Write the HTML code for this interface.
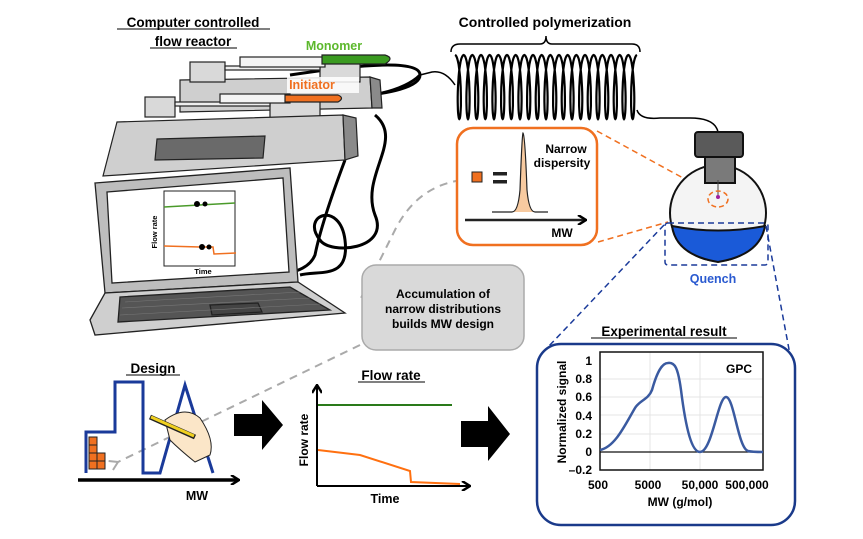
<!DOCTYPE html>
<html><head><meta charset="utf-8"><style>
html,body{margin:0;padding:0;background:#fff}
svg{display:block}
text{font-family:"Liberation Sans",Arial,sans-serif;font-weight:bold}
</style></head><body>
<svg id="s" width="863" height="539" viewBox="0 0 863 539" xmlns="http://www.w3.org/2000/svg">
<defs>
<marker id="ah" markerWidth="10" markerHeight="10" refX="8" refY="5" orient="auto" markerUnits="userSpaceOnUse"><path d="M1,0 L9,5 L1,10" fill="none" stroke="#000" stroke-width="2.5"/></marker>
<marker id="gah" markerWidth="12" markerHeight="12" refX="2" refY="6" orient="auto" markerUnits="userSpaceOnUse"><path d="M10,1 L2,6 L10,11" fill="none" stroke="#aaa" stroke-width="2"/></marker>
</defs>
<!-- titles -->
<text x="193" y="27" font-size="13.5" text-anchor="middle">Computer controlled</text>
<text x="193" y="46" font-size="13.5" text-anchor="middle">flow reactor</text>
<line x1="117" y1="29" x2="270" y2="29" stroke="#000"/>
<line x1="150" y1="48" x2="237" y2="48" stroke="#000"/>
<text x="545" y="27" font-size="14" text-anchor="middle">Controlled polymerization</text>
<path d="M451,52 Q451,44 460,44 L540,44 Q546,44 546,36 Q546,44 552,44 L632,44 Q640,44 640,52" fill="none" stroke="#000" stroke-width="1.5"/>
<g id="coil"></g>
<path d="M455,85 Q445,70 432,72 L420,75" fill="none" stroke="#000" stroke-width="1.5"/>
<path d="M637,110 Q640,120 660,118 L690,118 Q715,118 718,132" fill="none" stroke="#000" stroke-width="1.5"/>

<!-- cables -->
<g fill="none" stroke="#000" stroke-width="3">
<path d="M290,75 Q420,55 420,75 Q420,92 340,98"/>
<path d="M335,100 Q400,95 420,75"/>
<path d="M375,115 C405,140 360,175 375,215 C390,250 330,255 320,240 C300,215 340,200 345,240 C350,280 320,270 300,275"/>
<path d="M345,160 C330,200 320,230 315,255 C305,280 260,270 285,285"/>
</g>

<!-- upper pump -->
<g stroke="#222" stroke-width="1.2">
<polygon points="180,80 370,77 372,108 180,112" fill="#cfcfcf"/>
<polygon points="370,77 380,80 382,108 372,108" fill="#8a8a8a"/>
<rect x="190" y="62" width="35" height="20" fill="#d9d9d9"/>
<rect x="320" y="62" width="40" height="20" fill="#d9d9d9"/>
<rect x="225" y="66" width="95" height="4" fill="#eee"/>
<rect x="240" y="57" width="85" height="10" fill="#f4f4f4"/>
<path d="M322,55 L385,55 Q395,58 385,64 L322,64 Z" fill="#3a9a20"/>
<rect x="145" y="97" width="30" height="20" fill="#d9d9d9"/>
<rect x="270" y="97" width="50" height="22" fill="#d9d9d9"/>
<rect x="175" y="102" width="95" height="4" fill="#eee"/>
<rect x="220" y="94" width="70" height="9" fill="#f4f4f4"/>
<path d="M285,95 L338,95 Q345,98 338,102 L285,102 Z" fill="#f07020"/>
<polygon points="117,122 343,115 345,160 103,176" fill="#cfcfcf"/>
<polygon points="343,115 356,118 358,156 345,160" fill="#8a8a8a"/>
<polygon points="157,139 265,136 263,158 155,160" fill="#6a6a6a"/>
</g>
<rect x="287" y="77" width="72" height="16" fill="#fff" opacity="0.85"/>
<text x="334" y="50" font-size="12.5" fill="#5cb82c" text-anchor="middle">Monomer</text>
<text x="312" y="89" font-size="12.5" fill="#f07020" text-anchor="middle">Initiator</text>

<!-- laptop -->
<g stroke="#222" stroke-width="1.3">
<polygon points="95,183 290,168 298,282 105,293" fill="#bdbdbd"/>
<polygon points="107,192 283,178 289,272 112,283" fill="#fff"/>
<polygon points="105,293 298,282 345,313 95,335 90,320" fill="#cfcfcf"/>
<polygon points="120,297 290,287 330,310 118,322" fill="#555"/>
<polygon points="210,305 258,303 262,312 212,315" fill="#444"/>
</g>
<g stroke="#777" stroke-width="0.6">
<line x1="125" y1="302" x2="300" y2="292"/><line x1="122" y1="308" x2="310" y2="298"/><line x1="120" y1="315" x2="320" y2="304"/>
</g>
<rect x="164" y="191" width="71" height="75" fill="#fff" stroke="#222"/>
<path d="M164,207 L235,203" stroke="#4a9a2a" stroke-width="1.5"/>
<path d="M164,246 L200,247 L213,247 L214,254 L236,253" stroke="#f07020" stroke-width="1.5" fill="none"/>
<circle cx="197" cy="204" r="3"/><circle cx="205" cy="204" r="2.5"/>
<circle cx="202" cy="247" r="3"/><circle cx="209" cy="247" r="2.5"/>
<text x="157" y="232" font-size="7.5" transform="rotate(-90 157 232)" text-anchor="middle">Flow rate</text>
<text x="203" y="274" font-size="7.5" text-anchor="middle">Time</text>

<!-- gray dashed curve -->
<path d="M475,179 Q420,180 395,230 Q370,280 360,300" fill="none" stroke="#aaa" stroke-width="2" stroke-dasharray="8,6"/>
<path d="M360,345 L118,462" fill="none" stroke="#aaa" stroke-width="2" stroke-dasharray="8,6" marker-end="url(#gah)"/>

<!-- orange box -->
<rect x="457" y="128" width="140" height="117" rx="16" fill="#fff" stroke="#f07020" stroke-width="2.5"/>
<rect x="472" y="172" width="10" height="10" fill="#f07020" stroke="#222"/>
<rect x="493" y="172" width="14" height="3.5" fill="#222"/><rect x="493" y="180" width="14" height="3.5" fill="#222"/>
<path d="M492,212 L512,212 Q518,212 520,190 Q522,135 523,133 Q525,135 527,190 Q529,212 535,212 L548,212" fill="#f7caa0" stroke="#222" stroke-width="1.2"/>
<line x1="465" y1="220" x2="585" y2="220" stroke="#222" stroke-width="2.5" marker-end="url(#ah)"/>
<text x="566" y="153" font-size="12" text-anchor="middle">Narrow</text>
<text x="562" y="167" font-size="12" text-anchor="middle">dispersity</text>
<text x="562" y="237" font-size="12" text-anchor="middle">MW</text>
<path d="M597,131 L716,196 M598,242 L668,222" stroke="#f07020" stroke-width="1.5" stroke-dasharray="6,4"/>

<!-- flask -->
<g stroke="#111" stroke-width="2">
<circle cx="718" cy="213" r="48" fill="#f4f4f4"/>
<path d="M672,226 Q718,235 765,226 Q760,255 718,262 Q676,255 672,226 Z" fill="#1a5ad8"/>
<rect x="705" y="155" width="30" height="28" fill="#7a7a7a"/>
<rect x="695" y="132" width="48" height="25" rx="3" fill="#5a5a5a"/>
</g>
<line x1="718" y1="180" x2="718" y2="196" stroke="#444"/>
<circle cx="718" cy="197" r="2" fill="#a020a0"/>
<ellipse cx="718" cy="199" rx="10" ry="8" fill="none" stroke="#f07020" stroke-width="1.5" stroke-dasharray="5,3"/>
<rect x="665" y="223" width="103" height="42" rx="3" fill="none" stroke="#1a3a9a" stroke-width="1.5" stroke-dasharray="6,4"/>
<text x="713" y="283" font-size="12.5" fill="#2a5ad0" text-anchor="middle">Quench</text>
<path d="M664,225 L549,346 M766,226 L791,360" stroke="#1a3a9a" stroke-width="1.5" stroke-dasharray="6,4"/>

<!-- gray box -->
<rect x="362" y="265" width="162" height="85" rx="14" fill="#d9d9d9" stroke="#aaa" stroke-width="1.5"/>
<text x="443" y="298" font-size="12" text-anchor="middle">Accumulation of</text>
<text x="443" y="313" font-size="12" text-anchor="middle">narrow distributions</text>
<text x="443" y="328" font-size="12" text-anchor="middle">builds MW design</text>

<!-- design -->
<text x="153" y="373" font-size="13.5" text-anchor="middle">Design</text>
<line x1="126" y1="375" x2="180" y2="375" stroke="#000"/>
<path d="M86,473 L86,432 L115,432 L115,382 L143,382 L143,473 L160,473 L185,385 L213,473" fill="none" stroke="#1a3a9a" stroke-width="3"/>
<g fill="#f07020" stroke="#222" stroke-width="1">
<rect x="89" y="437" width="8" height="8"/><rect x="89" y="445" width="8" height="8"/><rect x="89" y="453" width="8" height="8"/><rect x="89" y="461" width="8" height="8"/>
<rect x="97" y="453" width="8" height="8"/><rect x="97" y="461" width="8" height="8"/>
</g>
<line x1="78" y1="480" x2="238" y2="480" stroke="#000" stroke-width="3.5" marker-end="url(#ah)"/>
<text x="197" y="500" font-size="12.5" text-anchor="middle">MW</text>
<!-- hand -->
<path d="M165,420 Q185,405 200,418 Q215,440 210,455 L195,462 Q180,450 170,440 Z" fill="#fbe6c8" stroke="#222"/>
<line x1="150" y1="417" x2="195" y2="437" stroke="#222" stroke-width="5"/>
<line x1="151" y1="417" x2="194" y2="436" stroke="#f0d020" stroke-width="3"/>

<!-- black arrows -->
<polygon points="234,414 262,414 262,400 283,425 262,450 262,436 234,436" fill="#000"/>
<polygon points="461,421 488,421 488,406 510,434 488,461 488,447 461,447" fill="#000"/>

<!-- flow rate graph -->
<text x="391" y="380" font-size="13.5" text-anchor="middle">Flow rate</text>
<line x1="358" y1="382" x2="425" y2="382" stroke="#000"/>
<line x1="317" y1="486" x2="317" y2="386" stroke="#000" stroke-width="2" marker-end="url(#ah)"/>
<line x1="317" y1="486" x2="469" y2="486" stroke="#000" stroke-width="2" marker-end="url(#ah)"/>
<line x1="318" y1="405" x2="452" y2="405" stroke="#2a7a1a" stroke-width="2"/>
<polyline points="318,450 360,455 410,471 411,482 460,484" fill="none" stroke="#ff7010" stroke-width="2"/>
<text x="308" y="440" font-size="12" text-anchor="middle" transform="rotate(-90 308 440)">Flow rate</text>
<text x="385" y="503" font-size="12.5" text-anchor="middle">Time</text>

<!-- experimental result -->
<text x="664" y="336" font-size="13.5" text-anchor="middle">Experimental result</text>
<line x1="591" y1="338" x2="737" y2="338" stroke="#000"/>
<rect x="537" y="344" width="258" height="181" rx="24" fill="#fff" stroke="#1a3a8a" stroke-width="2.5"/>
<g stroke="#e4e4e4" stroke-width="1">
<line x1="650" y1="352" x2="650" y2="470"/><line x1="700" y1="352" x2="700" y2="470"/>
<line x1="600" y1="379" x2="763" y2="379"/><line x1="600" y1="397" x2="763" y2="397"/><line x1="600" y1="415" x2="763" y2="415"/><line x1="600" y1="434" x2="763" y2="434"/>
</g>
<rect x="600" y="352" width="163" height="118" fill="none" stroke="#111" stroke-width="1.5"/>
<line x1="600" y1="452" x2="763" y2="452" stroke="#111" stroke-width="1.2"/>
<path d="M600,450 C615,447 625,425 635,408 C640,400 648,400 652,390 C657,372 662,363 668,363 C675,362 678,368 681,390 C686,430 692,452 700,452 C712,452 718,397 726,397 C734,397 738,448 748,451 C752,452 758,452 763,452" fill="none" stroke="#3a5aa0" stroke-width="2.5"/>
<text x="739" y="373" font-size="12" text-anchor="middle">GPC</text>
<g font-size="12" text-anchor="end">
<text x="592" y="365">1</text><text x="592" y="383">0.8</text><text x="592" y="401">0.6</text><text x="592" y="420">0.4</text><text x="592" y="438">0.2</text><text x="592" y="456">0</text><text x="592" y="474">–0.2</text>
</g>
<text x="566" y="412" font-size="12" text-anchor="middle" transform="rotate(-90 566 412)">Normalized signal</text>
<g font-size="12" text-anchor="middle">
<text x="598" y="489">500</text><text x="648" y="489">5000</text><text x="700" y="489">50,000</text><text x="747" y="489">500,000</text>
</g>
<text x="680" y="506" font-size="12" text-anchor="middle">MW (g/mol)</text>
</svg>
<script>
(function(){
var d="",n=21,x0=455,x1=637,w=(x1-x0)/n;
for(var i=0;i<=n*40;i++){var t=i/40*2*Math.PI;var x=x0+w*i/40+3.5*Math.sin(t);var y=87-32*Math.cos(t);d+=(i?"L":"M")+x.toFixed(1)+","+y.toFixed(1);}
var p=document.createElementNS("http://www.w3.org/2000/svg","path");
p.setAttribute("d",d);p.setAttribute("fill","none");p.setAttribute("stroke","#000");p.setAttribute("stroke-width","2.2");
document.getElementById("coil").appendChild(p);
})();
</script>
</body></html>
